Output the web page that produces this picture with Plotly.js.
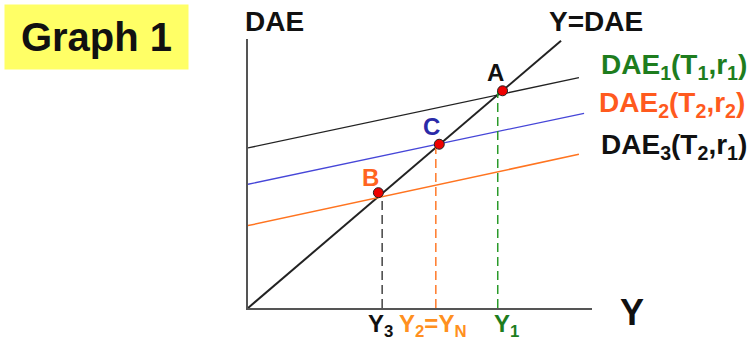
<!DOCTYPE html>
<html>
<head>
<meta charset="utf-8">
<script src="https://cdn.plot.ly/plotly-3.0.1.min.js"></script>
<style>html,body{margin:0;padding:0;background:#fff;}#chart{width:755px;height:348px;}</style>
</head>
<body>
<div id="chart"></div>
<script>
// (arbitrary units: Y horizontal, DAE vertical)
const diagX = [0, 9.1];
const diagY = [0, 7.95];
const dae1X = [0, 9.62];
const dae1Y = [4.76, 6.85];
const dae2X = [0, 9.77];
const dae2Y = [3.68, 5.79];
const dae3X = [0, 9.62];
const dae3Y = [2.45, 4.57];
const pointNames = ['A', 'C', 'B'];
const pointX = [7.40, 5.56, 3.79];
const pointY = [6.46, 4.87, 3.43];
const dropX = [3.90, 5.46, 7.26];      // Y3, Y2=YN, Y1
const dropTop = [3.31, 4.80, 6.46];
const dropColors = ['#444444', '#ff7a2a', '#2a9a2a'];
const X_MAX = 10, Y_MAX = 8;

const FONT = 'Liberation Sans, Arial, Helvetica, sans-serif';
const traces = [
  {x: diagX, y: diagY, mode: 'lines', line: {color: '#222', width: 2}},
  {x: dae1X, y: dae1Y, mode: 'lines', line: {color: '#222', width: 1.3}},
  {x: dae2X, y: dae2Y, mode: 'lines', line: {color: '#4646d8', width: 1.3}},
  {x: dae3X, y: dae3Y, mode: 'lines', line: {color: '#ff7420', width: 1.5}}
];
for (let i = 0; i < dropX.length; i++) {
  traces.push({x: [dropX[i], dropX[i]], y: [0, dropTop[i]], mode: 'lines',
    line: {color: dropColors[i], width: 1.5, dash: '9px,5px'}});
}
traces.push({x: pointX, y: pointY, mode: 'markers', text: pointNames,
  marker: {color: '#ee0000', size: 10, line: {color: '#222', width: 1}}, cliponaxis: false});

// annotation positions given in axis units, converted to paper coordinates
function ann(text, x, y, size, color, xanchor, extra) {
  return Object.assign({text: '<b>' + text + '</b>', x: x / X_MAX, y: y / Y_MAX, xref: 'paper', yref: 'paper',
    showarrow: false, xanchor: xanchor || 'center', yanchor: 'middle',
    font: {family: FONT, size: size, color: color}}, extra || {});
}

const annotations = [
  ann('Graph 1', -4.39, 8.07, 40, '#111', 'center', {bgcolor: '#ffff66', width: 181, height: 62}),
  ann('DAE', 0.78, 8.51, 28, '#111'),
  ann('Y=DAE', 10.12, 8.51, 28, '#111'),
  ann('DAE<sub>1</sub>(T<sub>1</sub>,r<sub>1</sub>)', 10.20, 7.18, 28, '#1e7d1e', 'left'),
  ann('DAE<sub>2</sub>(T<sub>2</sub>,r<sub>2</sub>)', 10.14, 6.05, 28, '#ff5a1e', 'left'),
  ann('DAE<sub>3</sub>(T<sub>2</sub>,r<sub>1</sub>)', 10.20, 4.80, 28, '#111', 'left'),
  ann(pointNames[0], 7.19, 6.99, 24, '#111'),
  ann(pointNames[1], 5.32, 5.39, 24, '#2a2aa8'),
  ann(pointNames[2], 3.55, 3.87, 24, '#ff6420'),
  ann('Y<sub>3</sub>', 3.44, -0.53, 24, '#111', 'left'),
  ann('Y<sub>2</sub>=Y<sub>N</sub>', 4.33, -0.53, 24, '#ff9020', 'left'),
  ann('Y<sub>1</sub>', 7.10, -0.53, 24, '#1e7d1e', 'left'),
  ann('Y', 11.16, -0.12, 36, '#111')
];

const layout = {
  width: 755, height: 348,
  margin: {l: 248, r: 163, t: 39, b: 40, pad: 0},
  paper_bgcolor: '#fff', plot_bgcolor: '#fff',
  showlegend: false,
  xaxis: {range: [0, X_MAX], showgrid: false, zeroline: false, showticklabels: false, ticks: '',
    showline: true, linecolor: '#555', linewidth: 2, fixedrange: true},
  yaxis: {range: [0, Y_MAX], showgrid: false, zeroline: false, showticklabels: false, ticks: '',
    showline: true, linecolor: '#555', linewidth: 2, fixedrange: true},
  annotations: annotations,
  hovermode: false
};
Plotly.newPlot('chart', traces, layout, {staticPlot: true, displayModeBar: false});
</script>
</body>
</html>
